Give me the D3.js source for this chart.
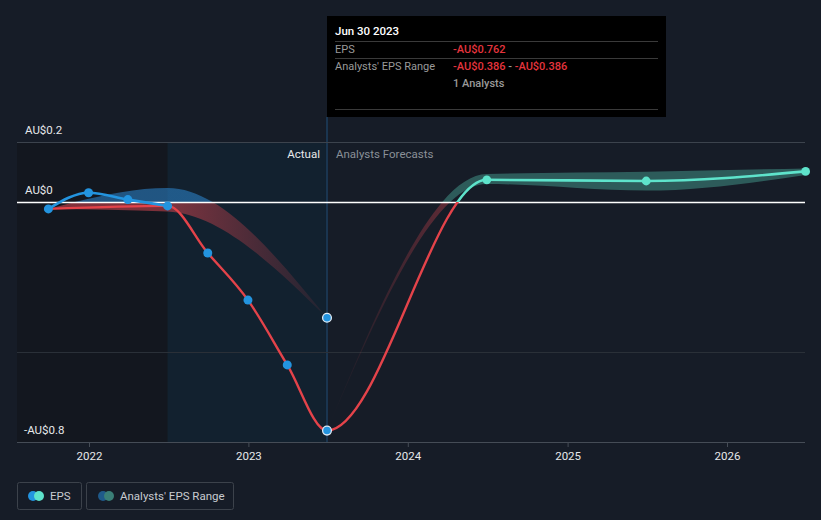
<!DOCTYPE html>
<html><head><meta charset="utf-8">
<script src="https://cdn.jsdelivr.net/npm/d3@7"></script>
<style>
html,body{margin:0;padding:0;background:#161c27;}
svg{display:block;font-family:Roboto,"Open Sans",sans-serif;}
</style></head>
<body><svg id="c" width="821" height="520"></svg>
<script>
// ---- data ----
const epsDates = ["2021-09-30","2021-12-31","2022-03-31","2022-06-30","2022-09-30","2022-12-31","2023-03-31","2023-06-30"];
const epsValues = [-0.023, 0.031, 0.008, -0.013, -0.17, -0.327, -0.543, -0.762];
const pastRangeDates = ["2021-09-30","2022-06-30","2023-06-30"];
const pastRangeLow = [-0.023, -0.032, -0.386];
const pastRangeHigh = [-0.023, 0.047, -0.386];
const fcDates = ["2023-06-30","2024-06-30","2025-06-30","2026-06-30"];
const fcValues = [-0.762, 0.074, 0.070, 0.102];
const fcLow = [-0.762, 0.060, 0.038, 0.090];
const fcHigh = [-0.762, 0.093, 0.101, 0.112];
const yTicks = [0.2, 0, -0.8];
const yTickLabels = ["AU$0.2", "AU$0", "-AU$0.8"];
const xTicks = ["2022-01-01","2023-01-01","2024-01-01","2025-01-01","2026-01-01"];
const xTickLabels = ["2022","2023","2024","2025","2026"];

const P = d3.timeParse("%Y-%m-%d");
const svg = d3.select("#c");
const x = d3.scaleTime().domain([P("2022-01-01"), P("2026-01-01")]).range([89, 727]);
const y = d3.scaleLinear().domain([-0.8, 0.2]).range([442, 142]);
const L = 17, R = 805, T = 142, B = 442;
const nowX = x(P("2023-06-30"));
const yearAgoX = x(P("2022-06-30"));

const defs = svg.append("defs");
defs.append("clipPath").attr("id","above").append("rect").attr("x",0).attr("y",0).attr("width",821).attr("height",y(0));
defs.append("clipPath").attr("id","below").append("rect").attr("x",0).attr("y",y(0)).attr("width",821).attr("height",520);
defs.append("clipPath").attr("id","aboveFc").append("rect").attr("x",nowX).attr("y",0).attr("width",821).attr("height",y(0));

function grad(id, x1, x2, stops){
  const g = defs.append("linearGradient").attr("id",id).attr("gradientUnits","userSpaceOnUse")
    .attr("x1",x1).attr("x2",x2).attr("y1",0).attr("y2",0);
  stops.forEach(s=>g.append("stop").attr("offset",s[0]).attr("stop-color",s[1]).attr("stop-opacity",s[2]));
}
grad("pastRed", 48, nowX, [[0,"#c0404a",0.65],[0.45,"#c0404a",0.6],[1,"#c0404a",0.08]]);
grad("pastBlue", 48, nowX, [[0,"#2a7fc4",0.6],[1,"#2a7fc4",0.6]]);
grad("fcRed", nowX, 470, [[0,"#c0404a",0.0],[1,"#c0404a",0.5]]);

// backgrounds
svg.append("rect").attr("x",L).attr("y",T).attr("width",yearAgoX-L).attr("height",B-T).attr("fill","#13171f");
svg.append("rect").attr("x",yearAgoX).attr("y",T).attr("width",nowX-yearAgoX).attr("height",B-T).attr("fill","#12212f");
svg.append("rect").attr("x",nowX-1).attr("y",117).attr("width",2).attr("height",B-117).attr("fill","#1a3550");

// grid
svg.append("line").attr("x1",L).attr("x2",R).attr("y1",y(0.2)+0.5).attr("y2",y(0.2)+0.5).attr("stroke","#3c434d").attr("stroke-width",1);
svg.append("line").attr("x1",L).attr("x2",R).attr("y1",y(-0.5)+0.5).attr("y2",y(-0.5)+0.5).attr("stroke","#2a3038").attr("stroke-width",1);

// y labels
svg.selectAll(".yl").data(yTicks).enter().append("text")
  .attr("x", (d,i)=> i===2 ? 24 : 25).attr("y", d=>y(d)-8)
  .attr("fill","#e6e8ea").attr("font-size",11.5).text((d,i)=>yTickLabels[i]);

// x axis
const xAxis = d3.axisBottom(x).tickValues(xTicks.map(P)).tickFormat((d,i)=>xTickLabels[i]).tickSize(5).tickSizeOuter(0);
const ga = svg.append("g").attr("transform",`translate(0,${B})`).call(xAxis);
ga.select(".domain").attr("d",`M${L},0.5H${R}`).attr("stroke","#454c56");
ga.selectAll(".tick line").attr("stroke","#454c56");
ga.selectAll(".tick text").attr("fill","#e6e8ea").attr("font-size",11.5).attr("dy","0.9em").attr("font-family","Roboto,sans-serif");

// labels Actual / Forecasts
svg.append("text").attr("x",nowX-7).attr("y",158).attr("text-anchor","end").attr("fill","#e8e9eb").attr("font-size",11.5).text("Actual");
svg.append("text").attr("x",nowX+9).attr("y",158).attr("fill","#8a9098").attr("font-size",11.5).text("Analysts Forecasts");

// bands
const curve = d3.curveMonotoneX;
const pastBand = pastRangeDates.map((d,i)=>({d:P(d),lo:pastRangeLow[i],hi:pastRangeHigh[i]}));
const fcBand = fcDates.map((d,i)=>({d:P(d),lo:fcLow[i],hi:fcHigh[i]}));
const area = d3.area().x(d=>x(d.d)).y0(d=>y(d.lo)).y1(d=>y(d.hi)).curve(curve);
svg.append("path").attr("d",area(pastBand)).attr("fill","url(#pastRed)").attr("clip-path","url(#below)");
svg.append("path").attr("d",area(pastBand)).attr("fill","url(#pastBlue)").attr("clip-path","url(#above)");
svg.append("path").attr("d",area(fcBand)).attr("fill","url(#fcRed)").attr("clip-path","url(#below)");
svg.append("path").attr("d",area(fcBand)).attr("fill","#4fb3a3").attr("fill-opacity",0.42).attr("clip-path","url(#above)");

// zero line
svg.append("line").attr("x1",L).attr("x2",R).attr("y1",y(0)+0.5).attr("y2",y(0)+0.5).attr("stroke","#ffffff").attr("stroke-width",1.3);

// lines
const line = d3.line().x(d=>x(d.d)).y(d=>y(d.v)).curve(curve);
const eps = epsDates.map((d,i)=>({d:P(d),v:epsValues[i]}));
const fc = fcDates.map((d,i)=>({d:P(d),v:fcValues[i]}));
const mainPts = eps.filter((d,i)=> i===0 || i>=3).concat(fc.slice(1));
svg.append("path").attr("d",line(mainPts)).attr("fill","none").attr("stroke","#e4434a").attr("stroke-width",2.4).attr("clip-path","url(#below)");
svg.append("path").attr("d",line(mainPts)).attr("fill","none").attr("stroke","#5ee3cb").attr("stroke-width",2.6).attr("clip-path","url(#aboveFc)");
svg.append("path").attr("d",line(eps.slice(0,4))).attr("fill","none").attr("stroke","#2394df").attr("stroke-width",2.6);

// markers
svg.selectAll(".ep").data(eps.slice(0,7)).enter().append("circle")
  .attr("cx",d=>x(d.d)).attr("cy",d=>y(d.v)).attr("r",4.5).attr("fill","#2394df");
svg.append("circle").attr("cx",x(eps[7].d)).attr("cy",y(eps[7].v)).attr("r",4.4).attr("fill","#2394df").attr("stroke","#dfeaf4").attr("stroke-width",1.3);
svg.append("circle").attr("cx",nowX).attr("cy",y(pastRangeLow[2])).attr("r",4.4).attr("fill","#2394df").attr("stroke","#dfeaf4").attr("stroke-width",1.3);
svg.selectAll(".fp").data(fc.slice(1)).enter().append("circle")
  .attr("cx",d=>x(d.d)).attr("cy",d=>y(d.v)).attr("r",4.4).attr("fill","#5ee3cb");

// tooltip
const tt = svg.append("g");
tt.append("rect").attr("x",327).attr("y",16).attr("width",339).attr("height",101).attr("fill","#000000");
tt.append("text").attr("x",335).attr("y",35).attr("fill","#ffffff").attr("font-size",11.5).attr("font-weight",500).text("Jun 30 2023");
[41.5,58.5,109.5].forEach(yy=>tt.append("line").attr("x1",335).attr("x2",658).attr("y1",yy).attr("y2",yy).attr("stroke","#3a3a3a"));
tt.append("text").attr("x",335).attr("y",53).attr("fill","#9a9a9a").attr("font-size",11).text("EPS");
tt.append("text").attr("x",453).attr("y",53).attr("fill","#e5343d").attr("font-size",11).attr("font-weight",500).text("-AU$0.762");
tt.append("text").attr("x",335).attr("y",70).attr("fill","#9a9a9a").attr("font-size",11).text("Analysts' EPS Range");
const rt = tt.append("text").attr("x",453).attr("y",70).attr("font-size",11).attr("font-weight",500);
rt.append("tspan").attr("fill","#e5343d").text("-AU$0.386");
rt.append("tspan").attr("fill","#9a9a9a").text(" - ");
rt.append("tspan").attr("fill","#e5343d").text("-AU$0.386");
tt.append("text").attr("x",453).attr("y",87).attr("fill","#9a9a9a").attr("font-size",11).attr("font-weight",500).text("1 Analysts");

// legend
const lg = svg.append("g");
lg.append("rect").attr("x",17.5).attr("y",482.5).attr("width",64).attr("height",27).attr("rx",2).attr("fill","none").attr("stroke","#3c424b");
lg.append("circle").attr("cx",33).attr("cy",496).attr("r",5).attr("fill","#2394df");
lg.append("circle").attr("cx",39).attr("cy",496).attr("r",5).attr("fill","#5ee3cb");
lg.append("text").attr("x",50).attr("y",500).attr("fill","#c8cbd0").attr("font-size",11.5).text("EPS");
lg.append("rect").attr("x",86.5).attr("y",482.5).attr("width",147).attr("height",27).attr("rx",2).attr("fill","none").attr("stroke","#3c424b");
lg.append("circle").attr("cx",103).attr("cy",496).attr("r",5).attr("fill","#1f5a8a");
lg.append("circle").attr("cx",109).attr("cy",496).attr("r",5).attr("fill","#3a7f77");
lg.append("text").attr("x",120).attr("y",500).attr("fill","#c8cbd0").attr("font-size",11.5).text("Analysts' EPS Range");
</script></body></html>
